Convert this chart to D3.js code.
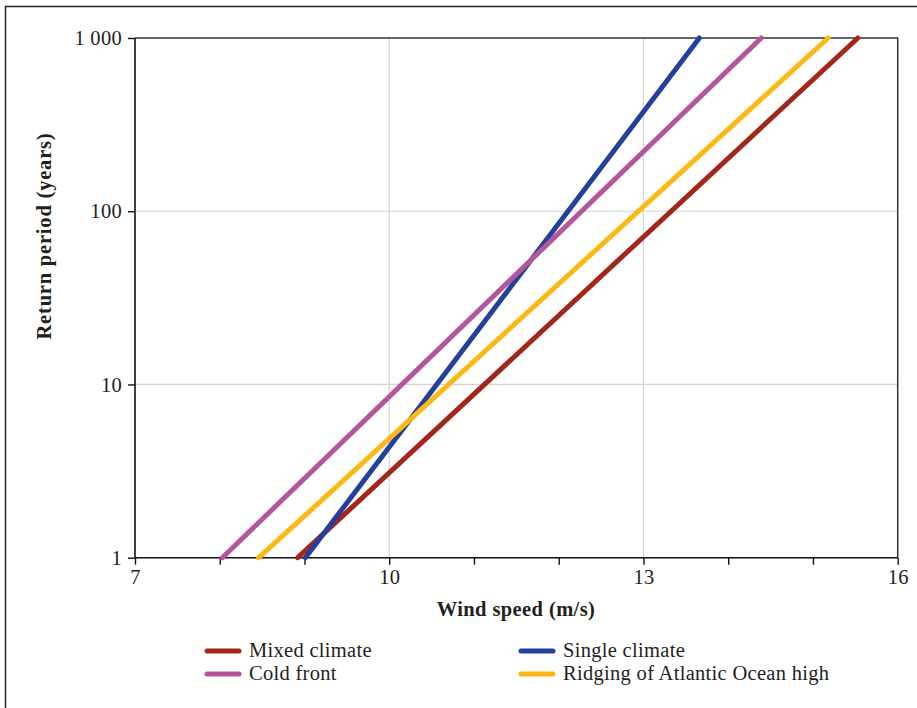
<!DOCTYPE html>
<html><head><meta charset="utf-8">
<script src="https://cdn.jsdelivr.net/npm/d3@7"></script>
<style>body{margin:0;background:#fff}svg{display:block}text{font-family:"Liberation Serif","DejaVu Serif",serif;fill:#231f20}</style>
</head><body>
<svg id="c" width="917" height="708"></svg>
<script>
const seriesNames = ["Mixed climate","Single climate","Cold front","Ridging of Atlantic Ocean high"];
const seriesColors = ["#a3261b","#23409a","#b5559e","#fdb913"];
const returnPeriods = [1, 1000];
const mixedSpeeds = [8.92, 15.53];
const singleSpeeds = [9.01, 13.66];
const coldSpeeds = [8.03, 14.39];
const ridgingSpeeds = [8.46, 15.18];
const xTickValues = [7,8,9,10,11,12,13,14,15,16];
const xTickLabels = ["7","","","10","","","13","","","16"];
const yTickValues = [1,10,100,1000];
const yTickLabels = ["1","10","100","1 000"];
const xGrid = [10,13];
const yGrid = [10,100];

const allSpeeds = [mixedSpeeds, singleSpeeds, coldSpeeds, ridgingSpeeds];
const svg = d3.select("#c");
const L=135, R=897.7, T=38, B=557.7;
const x = d3.scaleLinear().domain([7,16]).range([L,R]);
const y = d3.scaleLog().domain([1,1000]).range([B,T]);

svg.append("rect").attr("x",5.5).attr("y",6.5).attr("width",930).attr("height",730)
  .attr("fill","none").attr("stroke","#222").attr("stroke-width",1.5);

svg.append("g").selectAll("line").data(xGrid).join("line")
  .attr("x1",d=>x(d)).attr("x2",d=>x(d)).attr("y1",T).attr("y2",B)
  .attr("stroke","#d4d4d4").attr("stroke-width",1.2);
svg.append("g").selectAll("line").data(yGrid).join("line")
  .attr("y1",d=>y(d)).attr("y2",d=>y(d)).attr("x1",L).attr("x2",R)
  .attr("stroke","#d4d4d4").attr("stroke-width",1.2);

svg.append("path").attr("d",`M${L},${T}H${R}V${B}`).attr("fill","none")
  .attr("stroke","#333").attr("stroke-width",1.5);

const xAxis = d3.axisBottom(x).tickValues(xTickValues)
  .tickFormat((d,i)=>xTickLabels[i]).tickSize(7).tickPadding(5);
const gx = svg.append("g").attr("transform",`translate(0,${B})`).call(xAxis);
const yAxis = d3.axisLeft(y).tickValues(yTickValues)
  .tickFormat((d,i)=>yTickLabels[i]).tickSize(7).tickPadding(6);
const gy = svg.append("g").attr("transform",`translate(${L},0)`).call(yAxis);
[gx,gy].forEach(g=>{
  g.select(".domain").attr("stroke","#111").attr("stroke-width",1.6);
  g.selectAll(".tick line").attr("stroke","#111").attr("stroke-width",1.4);
  g.selectAll(".tick text").attr("font-family","Liberation Serif, serif")
    .attr("font-size",20.5).attr("letter-spacing","0.3px").attr("fill","#231f20");
});
gx.select(".domain").attr("d",`M${L},0H${R}`);
gy.select(".domain").attr("d",`M0,${B}V${T}`);

const line = d3.line().x(d=>x(d[0])).y(d=>y(d[1]));
allSpeeds.forEach((sp,i)=>{
  svg.append("path").datum(sp.map((v,j)=>[v,returnPeriods[j]]))
    .attr("d",line).attr("fill","none").attr("stroke",seriesColors[i])
    .attr("stroke-width",5).attr("stroke-linecap","round");
});

svg.append("text").attr("x",516).attr("y",616).attr("text-anchor","middle")
  .attr("font-weight","bold").attr("font-size",20.5).attr("letter-spacing","0.4px")
  .text("Wind speed (m/s)");
svg.append("text").attr("transform",`translate(51,236) rotate(-90)`)
  .attr("text-anchor","middle").attr("font-weight","bold").attr("font-size",20.5)
  .attr("letter-spacing","0.8px").text("Return period (years)");

const legPos = [[205,651],[519,651],[205,674],[519,674]];
seriesNames.forEach((n,i)=>{
  const [lx,ly]=legPos[i];
  svg.append("line").attr("x1",lx+2).attr("x2",lx+34).attr("y1",ly).attr("y2",ly)
    .attr("stroke",seriesColors[i]).attr("stroke-width",5).attr("stroke-linecap","round");
  svg.append("text").attr("x",lx+44).attr("y",ly+6).attr("font-size",20.5)
    .attr("letter-spacing","0.3px").text(n);
});
</script>
</body></html>
